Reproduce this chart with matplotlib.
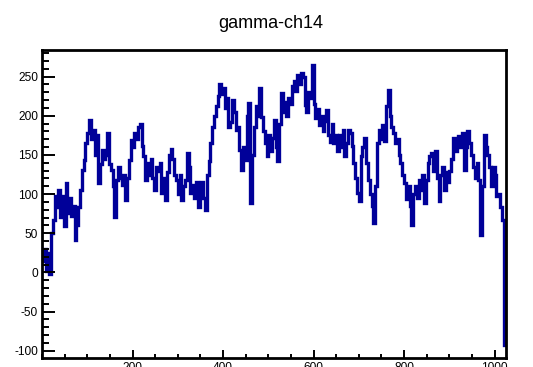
import numpy as np
import matplotlib
matplotlib.use("Agg")
import matplotlib.pyplot as plt
from matplotlib.ticker import MultipleLocator

plt.rcParams["font.family"] = ["Liberation Sans", "DejaVu Sans"]
plt.rcParams["axes.unicode_minus"] = False

title = "gamma-ch14"
bin_width = 4

# channel contents, 4 channels per bin, 64 channels per row
counts = [
    15, 30, 2, 25, -2, 50, 67, 97, 84, 105, 71, 97, 59, 114, 76, 95,
    72, 85, 42, 60, 84, 105, 131, 144, 165, 178, 195, 170, 182, 150, 175, 114,
    139, 156, 145, 150, 178, 139, 131, 110, 71, 118, 135, 120, 112, 125, 93, 120,
    144, 169, 160, 178, 170, 186, 190, 161, 148, 118, 140, 125, 145, 120, 105, 135,
    130, 140, 101, 120, 93, 128, 150, 158, 145, 125, 118, 100, 125, 93, 110, 118,
    152, 135, 101, 112, 95, 115, 84, 105, 115, 95, 80, 125, 142, 165, 185, 200,
    212, 225, 241, 228, 235, 210, 222, 186, 192, 220, 205, 182, 185, 156, 131, 160,
    144, 200, 216, 89, 150, 186, 212, 200, 235, 199, 180, 165, 148, 175, 155, 172,
    195, 160, 142, 190, 229, 205, 218, 200, 222, 215, 238, 244, 232, 252, 240, 255,
    250, 214, 205, 230, 222, 265, 215, 197, 208, 188, 200, 180, 193, 207, 175, 167,
    190, 165, 175, 155, 175, 160, 182, 148, 165, 182, 178, 161, 140, 120, 101, 91,
    148, 160, 172, 140, 118, 100, 85, 63, 110, 165, 182, 170, 188, 168, 212, 233,
    200, 185, 178, 165, 170, 150, 140, 125, 114, 94, 110, 85, 61, 100, 110, 95,
    118, 105, 125, 89, 118, 140, 148, 152, 130, 155, 120, 91, 125, 135, 105, 128,
    115, 130, 145, 172, 155, 165, 174, 160, 178, 131, 160, 180, 165, 150, 135, 120,
    140, 118, 48, 110, 176, 160, 150, 135, 110, 135, 125, 97, 100, 84, 67, -92,
]
edges = np.arange(len(counts) + 1) * bin_width

W, H = 533, 367
fig = plt.figure(figsize=(W / 100, H / 100), dpi=100)
left, right, top, bottom = 42, 505.5, 49.5, 357.5
ax = fig.add_axes([left / W, 1 - bottom / H, (right - left) / W, (bottom - top) / H])

ax.stairs(counts, edges, baseline=None, color="#000099", lw=2.4)

ax.set_xlim(0, 1024)
ax.set_ylim(-108.5, 284.5)

ax.xaxis.set_major_locator(MultipleLocator(200))
ax.xaxis.set_minor_locator(MultipleLocator(50))
ax.yaxis.set_major_locator(MultipleLocator(50))
ax.yaxis.set_minor_locator(MultipleLocator(10))

ax.tick_params(axis="both", which="both", direction="in", top=False, right=False,
               labelsize=8.6, colors="black")
ax.tick_params(axis="y", which="major", length=9.4, width=1.4, pad=2.9)
ax.tick_params(axis="y", which="minor", length=4.8, width=1.4)
ax.tick_params(axis="x", which="major", length=5.8, width=1.4, pad=3.2)
ax.tick_params(axis="x", which="minor", length=2.9, width=1.4)

# no label at the origin of the x axis
ax.set_xticks([200, 400, 600, 800, 1000])

for s in ax.spines.values():
    s.set_linewidth(2.0)

fig.text(271 / W, 1 - 24 / H, title, ha="center", va="center", fontsize=13)

fig.savefig("out.png", dpi=100)
